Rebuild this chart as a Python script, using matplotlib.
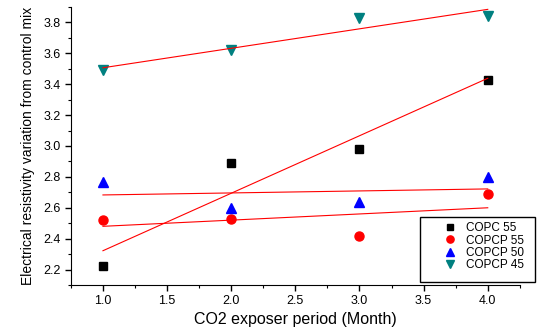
import matplotlib
matplotlib.use('Agg')
import matplotlib.pyplot as plt
import numpy as np
from matplotlib.ticker import MultipleLocator, FormatStrFormatter
from matplotlib.patches import Rectangle

plt.rcParams['font.family'] = ['Liberation Sans', 'DejaVu Sans']

# months of CO2 exposure
months = [1.0, 2.0, 3.0, 4.0]

# resistivity variation
copc55 = [2.22, 2.89, 2.98, 3.43]
copcp55 = [2.52, 2.53, 2.42, 2.69]
copcp50 = [2.77, 2.60, 2.64, 2.80]
copcp45 = [3.49, 3.62, 3.83, 3.84]

labels = ['COPC 55', 'COPCP 55', 'COPCP 50', 'COPCP 45']

series = [copc55, copcp55, copcp50, copcp45]
styles = [('s', 'black', 5.5), ('o', 'red', 6.5), ('^', 'blue', 6.5), ('v', '#008080', 6.5)]

fig = plt.figure(figsize=(5.37, 3.28), dpi=100)
ax = fig.add_axes([0.132, 0.131, 0.836, 0.848])

x = np.array(months)
for ys, (m, c, ms), lab in zip(series, styles, labels):
    ax.plot(x, ys, linestyle='none', marker=m, color=c, markersize=ms, label=lab)
    # linear fit, drawn across the data range
    s, i = np.polyfit(x, ys, 1)
    ax.plot([x.min(), x.max()], [s * x.min() + i, s * x.max() + i], color='red', lw=0.8)

ax.set_xlim(0.75, 4.25)
ax.set_ylim(2.1, 3.9)
ax.set_xticks(np.arange(1.0, 4.01, 0.5))
ax.set_yticks(np.arange(2.2, 3.81, 0.2))
ax.xaxis.set_minor_locator(MultipleLocator(0.25))
ax.yaxis.set_minor_locator(MultipleLocator(0.1))
ax.xaxis.set_major_formatter(FormatStrFormatter('%.1f'))
ax.yaxis.set_major_formatter(FormatStrFormatter('%.1f'))

ax.spines['top'].set_visible(False)
ax.spines['right'].set_visible(False)
ax.tick_params(which='major', direction='out', length=4, width=1, labelsize=9)
ax.tick_params(which='minor', direction='out', length=2.5, width=0.8)

ax.set_xlabel('CO2 exposer period (Month)', fontsize=11.5, labelpad=3)
ax.set_ylabel('Electrical resistivity variation from control mix', fontsize=10, labelpad=6)

# legend box (frame drawn separately so it can be larger than the entries)
box = Rectangle((0.782, 0.140), 0.215, 0.198, transform=fig.transFigure,
                facecolor='white', edgecolor='black', lw=1, zorder=5, clip_on=False)
ax.add_patch(box)
leg = ax.legend(loc='center', bbox_to_anchor=(0.899, 0.248),
                bbox_transform=fig.transFigure, fontsize=8.5, frameon=False,
                handletextpad=0.6, labelspacing=0.02, markerscale=0.8,
                handlelength=1.5)
leg.set_zorder(6)

fig.savefig('out.png', dpi=100)
